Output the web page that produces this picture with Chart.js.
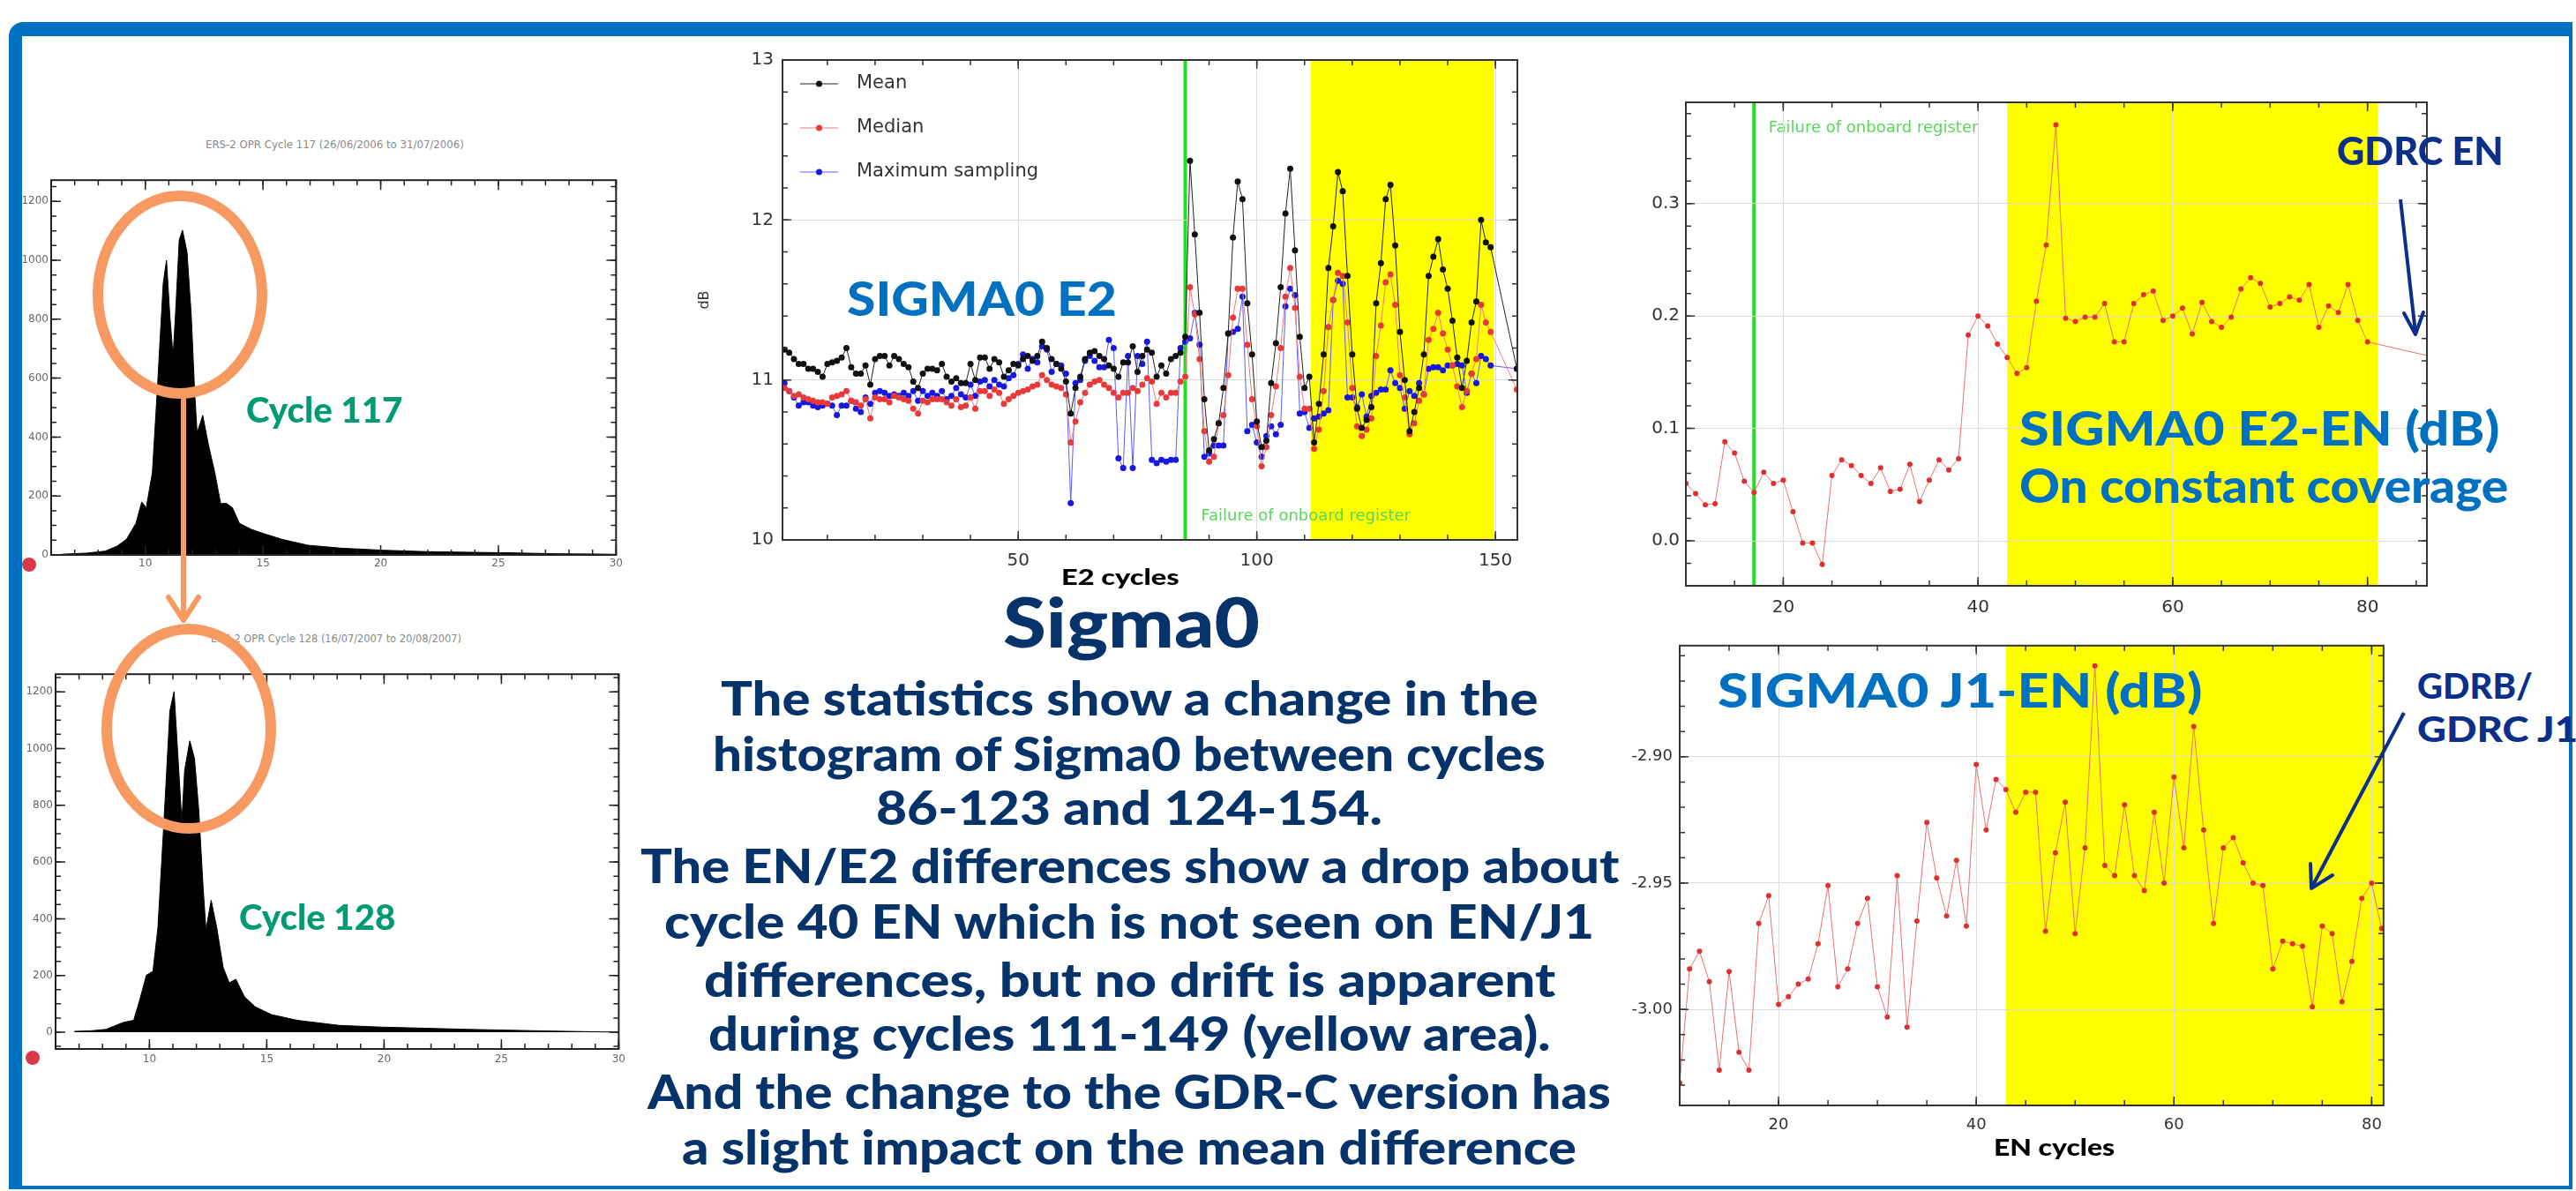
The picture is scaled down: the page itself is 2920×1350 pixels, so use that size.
<!DOCTYPE html>
<html>
<head>
<meta charset="utf-8">
<script src="https://cdn.jsdelivr.net/npm/chart.js@4.4.1/dist/chart.umd.min.js"></script>
<style>
  html, body { margin: 0; padding: 0; background: #fff; }
  #slide { position: relative; width: 2920px; height: 1350px; overflow: hidden; background: #fff; }
  .frame { position: absolute; left: 10px; top: 25px; width: 2906px; height: 1323px; box-sizing: border-box;
           border: solid #0070c0; border-width: 16px 4px 4px 15px; border-top-left-radius: 16px; }
  .box { position: absolute; }
  .t { position: absolute; white-space: nowrap; line-height: 1; font-family: "Comic Sans MS", "Lato", sans-serif;
       font-weight: 900; transform-origin: 0 0; }
  .s { position: absolute; white-space: nowrap; line-height: 1; font-family: "DejaVu Sans", sans-serif;
       font-size: 12px; color: #8a8a8a; transform-origin: 0 0; }
  svg.over { position: absolute; left: 0; top: 0; pointer-events: none; }
</style>
</head>
<body>
<div id="slide">
  <div class="frame"></div>

  <div class="box" style="left:20px;top:194px;width:689px;height:466px"><canvas id="hist117"></canvas></div>
  <div class="box" style="left:25px;top:754px;width:689px;height:466px"><canvas id="hist128"></canvas></div>
  <div class="box" style="left:785px;top:46px;width:945px;height:606px"><canvas id="e2"></canvas></div>
  <div class="box" style="left:1855px;top:97px;width:906px;height:607px"><canvas id="e2en"></canvas></div>
  <div class="box" style="left:1834px;top:713px;width:878px;height:580px"><canvas id="j1en"></canvas></div>

  <div class="s" data-x="379" data-y="164" data-w="293" data-c="1">ERS-2 OPR Cycle 117 (26/06/2006 to 31/07/2006)</div>
  <div class="s" data-x="381" data-y="724" data-w="284" data-c="1">ERS-2 OPR Cycle 128 (16/07/2007 to 20/08/2007)</div>

  <div class="t" data-x="279" data-y="465" data-w="177" style="font-size:40px;color:#009b72">Cycle 117</div>
  <div class="t" data-x="271" data-y="1040" data-w="177" style="font-size:40px;color:#009b72">Cycle 128</div>
  <div class="t" data-x="960" data-y="339" data-w="306" style="font-size:53px;color:#0070c0">SIGMA0 E2</div>
  <div class="t" data-x="1270" data-y="654" data-w="134" data-c="1" style="font-size:25px;color:#000">E2 cycles</div>
  <div class="t" data-x="1282" data-y="706" data-w="291" data-c="1" style="font-size:79px;color:#06346a">Sigma0</div>

  <div class="t" data-x="1280" data-y="792" data-w="927" data-c="1" style="font-size:53px;color:#06346a">The statistics show a change in the</div>
  <div class="t" data-x="1280" data-y="855" data-w="944" data-c="1" style="font-size:53px;color:#06346a">histogram of Sigma0 between cycles</div>
  <div class="t" data-x="1280" data-y="916" data-w="574" data-c="1" style="font-size:53px;color:#06346a">86-123 and 124-154.</div>
  <div class="t" data-x="1280" data-y="982" data-w="1109" data-c="1" style="font-size:53px;color:#06346a">The EN/E2 differences show a drop about</div>
  <div class="t" data-x="1280" data-y="1045" data-w="1054" data-c="1" style="font-size:53px;color:#06346a">cycle 40 EN which is not seen on EN/J1</div>
  <div class="t" data-x="1280" data-y="1111" data-w="965" data-c="1" style="font-size:53px;color:#06346a">differences, but no drift is apparent</div>
  <div class="t" data-x="1280" data-y="1172" data-w="954" data-c="1" style="font-size:53px;color:#06346a">during cycles 111-149 (yellow area).</div>
  <div class="t" data-x="1280" data-y="1238" data-w="1092" data-c="1" style="font-size:53px;color:#06346a">And the change to the GDR-C version has</div>
  <div class="t" data-x="1280" data-y="1301" data-w="1014" data-c="1" style="font-size:53px;color:#06346a">a slight impact on the mean difference</div>

  <div class="t" data-x="2649" data-y="172" data-w="189" style="font-size:43px;color:#0c2f8a">GDRC EN</div>
  <div class="t" data-x="2289" data-y="487" data-w="545" style="font-size:54px;color:#0070c0">SIGMA0 E2-EN (dB)</div>
  <div class="t" data-x="2289" data-y="552" data-w="554" style="font-size:54px;color:#0070c0">On constant coverage</div>
  <div class="t" data-x="1947" data-y="784" data-w="549" style="font-size:54px;color:#0070c0">SIGMA0 J1-EN (dB)</div>
  <div class="t" data-x="2740" data-y="778" data-w="131" style="font-size:40px;color:#0c2f8a">GDRB/</div>
  <div class="t" data-x="2740" data-y="827" data-w="182" style="font-size:40px;color:#0c2f8a">GDRC J1</div>
  <div class="t" data-x="2328" data-y="1300" data-w="137" data-c="1" style="font-size:27px;color:#000">EN cycles</div>

  <svg class="over" width="2920" height="1350">
    <ellipse cx="204" cy="334" rx="93" ry="112" fill="none" stroke="#f79a62" stroke-width="12"/>
    <ellipse cx="214" cy="826" rx="93" ry="113" fill="none" stroke="#f79a62" stroke-width="12"/>
    <line x1="208" y1="440" x2="208" y2="700" stroke="#f79a62" stroke-width="6"/>
    <polyline points="191,677 208,703 225,677" fill="none" stroke="#f79a62" stroke-width="6" stroke-linecap="round" stroke-linejoin="round"/>
    <line x1="2721" y1="226" x2="2738" y2="377" stroke="#0c2f8a" stroke-width="4"/>
    <polyline points="2725,355 2738,379 2747,354" fill="none" stroke="#0c2f8a" stroke-width="4" stroke-linecap="round" stroke-linejoin="round"/>
    <line x1="2725" y1="808" x2="2621" y2="1005" stroke="#0c2f8a" stroke-width="4"/>
    <polyline points="2619,979 2620,1007 2644,992" fill="none" stroke="#0c2f8a" stroke-width="4" stroke-linecap="round" stroke-linejoin="round"/>
    <circle cx="33" cy="640" r="8" fill="#d8384a"/>
    <circle cx="37" cy="1199" r="8" fill="#d8384a"/>
  </svg>
</div>

<script>
// histogram outlines, sigma0 (dB) vs pixel count
const hist117X = [6.2, 6.6, 7.5, 8.3, 8.8, 9.2, 9.6, 9.85, 10.04, 10.3, 10.5, 10.76, 10.9, 11.04, 11.18, 11.3, 11.44, 11.58, 11.77, 11.95, 12.1, 12.2, 12.44, 12.68, 12.95, 13.2, 13.45, 13.7, 14.0, 14.5, 15.0, 15.8, 16.9, 18.3, 20.1, 22.0, 23.8, 25.6, 27.4, 29.2, 30];
const hist117Y = [0, 3, 6, 13, 30, 53, 107, 180, 160, 280, 548, 922, 1000, 815, 675, 842, 1069, 1102, 1029, 815, 548, 414, 474, 374, 280, 174, 175, 160, 107, 87, 73, 53, 33, 23, 16, 11, 9, 7, 4, 3, 2];
const hist128X = [6.8, 7.5, 8.15, 8.9, 9.33, 9.6, 9.87, 10.15, 10.36, 10.6, 10.87, 11.05, 11.2, 11.38, 11.5, 11.72, 11.92, 12.1, 12.29, 12.41, 12.63, 12.87, 13.14, 13.4, 13.68, 14.05, 14.5, 15.2, 16.3, 18.1, 19.9, 21.8, 23.6, 25.4, 27.2, 29.4, 30];
const hist128Y = [3, 5, 10, 35, 42, 118, 201, 215, 368, 715, 1132, 1201, 993, 743, 923, 1027, 965, 785, 507, 361, 465, 368, 229, 174, 187, 125, 90, 62, 42, 24, 18, 14, 10, 7, 4, 1, 1];
const histTicksX = [10, 15, 20, 25, 30];
const histTicksY = [0, 200, 400, 600, 800, 1000, 1200];

// sigma0 E2 statistics per E2 cycle
const e2Cycles = [1, 2, 3, 4, 5, 6, 7, 8, 9, 10, 11, 12, 13, 14, 15, 16, 17, 18, 19, 20,
  21, 22, 23, 24, 25, 26, 27, 28, 29, 30, 31, 32, 33, 34, 35, 36, 37, 38, 39, 40,
  41, 42, 43, 44, 45, 46, 47, 48, 49, 50, 51, 52, 53, 54, 55, 56, 57, 58, 59, 60,
  61, 62, 63, 64, 65, 66, 67, 68, 69, 70, 71, 72, 73, 74, 75, 76, 77, 78, 79, 80,
  81, 82, 83, 84, 85, 86, 87, 88, 89, 90, 91, 92, 93, 94, 95, 96, 97, 98, 99, 100,
  101, 102, 103, 104, 105, 106, 107, 108, 109, 110, 111, 112, 113, 114, 115, 116, 117, 118, 119, 120,
  121, 122, 123, 124, 125, 126, 127, 128, 129, 130, 131, 132, 133, 134, 135, 136, 137, 138, 139, 140,
  141, 142, 143, 144, 145, 146, 147, 148, 149, 154.5];
const e2Mean = [11.19, 11.17, 11.13, 11.10, 11.10, 11.07, 11.07, 11.05, 11.02, 11.10, 11.11, 11.12, 11.14, 11.20, 11.08, 11.04, 11.04, 11.09, 10.97, 11.13,
  11.15, 11.15, 11.09, 11.15, 11.13, 11.10, 11.08, 10.99, 10.95, 11.04, 11.07, 11.07, 11.06, 11.10, 11.02, 10.99, 11.01, 10.98, 10.98, 11.10,
  11.00, 11.14, 11.14, 11.07, 11.13, 11.11, 11.02, 11.06, 11.10, 11.09, 11.13, 11.15, 11.12, 11.15, 11.24, 11.20, 11.13, 11.10, 11.07, 10.99,
  10.79, 10.95, 11.02, 11.13, 11.17, 11.18, 11.15, 11.13, 11.09, 11.07, 11.02, 11.11, 11.11, 11.21, 11.05, 11.15, 11.19, 11.17, 11.02, 11.09,
  11.04, 11.13, 11.15, 11.17, 11.27, 12.37, 11.91, 11.42, 10.88, 10.56, 10.63, 10.73, 10.95, 11.29, 11.89, 12.24, 12.13, 11.48, 11.16, 10.74,
  10.58, 10.62, 10.98, 11.23, 11.58, 12.04, 12.32, 11.81, 11.27, 10.95, 11.02, 10.61, 10.85, 11.16, 11.70, 11.96, 12.30, 12.18, 11.65, 11.16,
  10.82, 10.70, 10.75, 10.83, 11.48, 11.73, 12.13, 12.22, 11.84, 11.30, 11.00, 10.68, 10.80, 10.95, 11.16, 11.65, 11.77, 11.88, 11.69, 11.57,
  11.37, 11.14, 10.95, 11.12, 11.36, 11.49, 12.00, 11.86, 11.83, 11.07];
const e2Median = [10.95, 10.93, 10.90, 10.91, 10.89, 10.88, 10.87, 10.86, 10.86, 10.85, 10.89, 10.90, 10.91, 10.93, 10.87, 10.86, 10.84, 10.88, 10.76, 10.89,
  10.88, 10.88, 10.86, 10.90, 10.89, 10.88, 10.87, 10.82, 10.79, 10.87, 10.86, 10.88, 10.88, 10.88, 10.86, 10.84, 10.88, 10.83, 10.84, 10.89,
  10.82, 10.93, 10.93, 10.90, 10.94, 10.92, 10.85, 10.88, 10.90, 10.92, 10.93, 10.94, 10.96, 10.97, 11.03, 11.00, 10.97, 10.96, 10.95, 10.91,
  10.61, 10.74, 10.86, 10.92, 10.97, 10.99, 11.00, 10.97, 10.95, 10.92, 10.89, 10.92, 10.92, 10.95, 10.93, 10.97, 11.01, 10.99, 10.85, 10.92,
  10.89, 10.92, 10.92, 10.99, 11.02, 11.58, 11.41, 11.13, 10.68, 10.49, 10.52, 10.73, 10.78, 11.03, 11.39, 11.57, 11.57, 11.22, 10.88, 10.71,
  10.46, 10.58, 10.78, 10.96, 11.20, 11.52, 11.70, 11.45, 11.02, 10.82, 10.82, 10.57, 10.69, 10.93, 11.33, 11.50, 11.67, 11.65, 11.36, 10.95,
  10.71, 10.65, 10.69, 10.76, 11.15, 11.34, 11.61, 11.66, 11.47, 11.03, 10.89, 10.66, 10.73, 10.87, 10.91, 11.25, 11.32, 11.42, 11.29, 11.19,
  11.09, 10.96, 10.83, 10.93, 11.04, 11.13, 11.47, 11.36, 11.30, 10.94];
const e2MaxSampling = [10.98, 10.93, 10.89, 10.84, 10.86, 10.86, 10.84, 10.83, 10.84, 10.85, 10.84, 10.78, 10.84, 10.84, 10.87, 10.82, 10.80, 10.89, 10.85, 10.92,
  10.93, 10.92, 10.90, 10.91, 10.90, 10.92, 10.90, 10.93, 10.87, 10.93, 10.90, 10.92, 10.90, 10.93, 10.88, 10.90, 10.95, 10.91, 10.89, 10.97,
  10.90, 10.99, 11.00, 10.96, 11.00, 10.97, 10.96, 11.01, 11.03, 11.10, 11.16, 11.07, 11.13, 11.11, 11.21, 11.19, 11.05, 11.10, 11.09, 11.04,
  10.23, 10.98, 11.00, 11.12, 11.15, 11.12, 11.08, 11.08, 11.25, 11.20, 10.51, 10.45, 11.15, 10.45, 11.15, 11.10, 11.24, 10.50, 10.48, 10.50,
  10.49, 10.50, 10.50, 11.20, 11.24, 11.26, 11.42, 11.22, 10.52, 10.54, 10.59, 10.59, 10.59, 11.29, 11.30, 11.32, 11.52, 10.68, 10.72, 10.61,
  10.52, 10.65, 10.71, 10.66, 10.72, 11.46, 11.57, 11.53, 10.79, 10.80, 10.70, 10.76, 10.77, 10.79, 10.81, 11.50, 11.62, 11.60, 10.89, 10.89,
  10.83, 10.91, 10.77, 10.90, 10.92, 10.94, 10.94, 11.06, 10.98, 10.95, 10.82, 10.93, 10.90, 10.98, 10.91, 11.07, 11.08, 11.08, 11.06, 11.09,
  11.09, 11.10, 11.09, 10.92, 11.04, 10.98, 11.15, 11.13, 11.09, 11.07];
const e2TicksX = [50, 100, 150];
const e2TicksY = [10, 11, 12, 13];

// sigma0 differences per EN cycle (dB)
const enE2Cycles = [10, 11, 12, 13, 14, 15, 16, 17, 18, 19, 20, 21, 22, 23, 24, 25, 26, 27, 28, 29,
  30, 31, 32, 33, 34, 35, 36, 37, 38, 39, 40, 41, 42, 43, 44, 45, 46, 47, 48, 49,
  50, 51, 52, 53, 54, 55, 56, 57, 58, 59, 60, 61, 62, 63, 64, 65, 66, 67, 68, 69,
  70, 71, 72, 73, 74, 75, 76, 77, 78, 79, 80, 86];
const e2MinusEn = [0.051, 0.042, 0.032, 0.033, 0.088, 0.078, 0.053, 0.043, 0.061, 0.051, 0.054, 0.026, -0.002, -0.002, -0.021, 0.058, 0.072, 0.067, 0.058, 0.051,
  0.065, 0.044, 0.046, 0.068, 0.035, 0.054, 0.072, 0.063, 0.073, 0.183, 0.200, 0.191, 0.175, 0.163, 0.149, 0.154, 0.213, 0.263, 0.370, 0.198,
  0.195, 0.199, 0.199, 0.211, 0.177, 0.177, 0.211, 0.219, 0.222, 0.196, 0.200, 0.207, 0.184, 0.212, 0.195, 0.190, 0.199, 0.224, 0.234, 0.229,
  0.208, 0.211, 0.217, 0.214, 0.228, 0.190, 0.209, 0.203, 0.228, 0.196, 0.177, 0.165];
const enJ1Cycles = [10, 11, 12, 13, 14, 15, 16, 17, 18, 19, 20, 21, 22, 23, 24, 25, 26, 27, 28, 29,
  30, 31, 32, 33, 34, 35, 36, 37, 38, 39, 40, 41, 42, 43, 44, 45, 46, 47, 48, 49,
  50, 51, 52, 53, 54, 55, 56, 57, 58, 59, 60, 61, 62, 63, 64, 65, 66, 67, 68, 69,
  70, 71, 72, 73, 74, 75, 76, 77, 78, 79, 80, 81];
const j1MinusEn = [-3.029, -2.984, -2.977, -2.989, -3.024, -2.985, -3.017, -3.024, -2.966, -2.955, -2.998, -2.995, -2.990, -2.988, -2.974, -2.951, -2.991, -2.984, -2.966, -2.956,
  -2.991, -3.003, -2.947, -3.007, -2.965, -2.926, -2.948, -2.963, -2.941, -2.967, -2.903, -2.929, -2.909, -2.913, -2.922, -2.914, -2.914, -2.969, -2.938, -2.918,
  -2.970, -2.936, -2.864, -2.943, -2.947, -2.919, -2.947, -2.953, -2.922, -2.950, -2.908, -2.936, -2.888, -2.929, -2.966, -2.936, -2.932, -2.942, -2.950, -2.951,
  -2.984, -2.973, -2.974, -2.975, -2.999, -2.967, -2.970, -2.997, -2.981, -2.956, -2.950, -2.968];
const enTicksX = [20, 40, 60, 80];
const e2enTicksY = [0.0, 0.1, 0.2, 0.3];
const j1enTicksY = [-3.00, -2.95, -2.90];

// boxed frame with inward ticks, like the original plotting tool
const framePlugin = {
  id: 'frame',
  afterDatasetsDraw(chart, args, o) {
    if (!o.minor) return;
    const { ctx, chartArea: a, scales: { x, y } } = chart;
    ctx.save();
    ctx.strokeStyle = o.color;
    ctx.lineWidth = o.width;
    ctx.strokeRect(a.left, a.top, a.right - a.left, a.bottom - a.top);
    ctx.lineWidth = 1.5;
    const markX = (v, len) => {
      const p = x.getPixelForValue(v);
      ctx.beginPath();
      ctx.moveTo(p, a.bottom); ctx.lineTo(p, a.bottom - len);
      ctx.moveTo(p, a.top); ctx.lineTo(p, a.top + len);
      ctx.stroke();
    };
    const markY = (v, len) => {
      const p = y.getPixelForValue(v);
      ctx.beginPath();
      ctx.moveTo(a.left, p); ctx.lineTo(a.left + len, p);
      ctx.moveTo(a.right, p); ctx.lineTo(a.right - len, p);
      ctx.stroke();
    };
    const steps = (scale, step, fn, len) => {
      const first = Math.ceil(scale.min / step - 1e-9);
      const last = Math.floor(scale.max / step + 1e-9);
      for (let i = first; i <= last; i++) fn(i * step, len);
    };
    steps(x, o.minor[0], markX, o.len[1]);
    steps(y, o.minor[1], markY, o.len[1]);
    x.ticks.forEach(t => markX(t.value, o.len[0]));
    y.ticks.forEach(t => markY(t.value, o.len[0]));
    ctx.restore();
  }
};

// yellow period, green failure line and its note
const bandPlugin = {
  id: 'bands',
  beforeDraw(chart, args, o) {
    if (!o.yellow) return;
    const { ctx, chartArea: a, scales: { x, y } } = chart;
    ctx.save();
    ctx.beginPath();
    ctx.rect(a.left, a.top, a.right - a.left, a.bottom - a.top);
    ctx.clip();
    const x1 = x.getPixelForValue(o.yellow[0]);
    const x2 = x.getPixelForValue(o.yellow[1]);
    ctx.fillStyle = '#ffff00';
    ctx.fillRect(x1, a.top, x2 - x1, a.bottom - a.top);
    if (o.failure != null) {
      const g = x.getPixelForValue(o.failure);
      ctx.strokeStyle = '#22dd22';
      ctx.lineWidth = 4;
      ctx.beginPath();
      ctx.moveTo(g, a.top); ctx.lineTo(g, a.bottom);
      ctx.stroke();
    }
    if (o.note) {
      ctx.fillStyle = '#5ad65a';
      ctx.font = '18px "DejaVu Sans"';
      ctx.textBaseline = 'middle';
      ctx.fillText(o.note.text, x.getPixelForValue(o.note.x), y.getPixelForValue(o.note.y));
    }
    ctx.restore();
  }
};

// legend drawn as line + dot, inside the plot
const keyPlugin = {
  id: 'seriesKey',
  afterDatasetsDraw(chart, args, o) {
    if (!o.show) return;
    const { ctx, chartArea: a } = chart;
    ctx.save();
    chart.data.datasets.forEach((ds, i) => {
      const yy = a.top + 27 + i * 50;
      ctx.strokeStyle = ds.borderColor;
      ctx.lineWidth = 1.2;
      ctx.beginPath();
      ctx.moveTo(a.left + 20, yy); ctx.lineTo(a.left + 63, yy);
      ctx.stroke();
      ctx.fillStyle = ds.pointBackgroundColor;
      ctx.beginPath();
      ctx.arc(a.left + 41.5, yy, 3.5, 0, Math.PI * 2);
      ctx.fill();
      ctx.fillStyle = '#333';
      ctx.font = '21px "DejaVu Sans"';
      ctx.textBaseline = 'middle';
      ctx.fillText(ds.label, a.left + 84, yy);
    });
    ctx.restore();
  }
};

Chart.register(framePlugin, bandPlugin, keyPlugin);

function plot(id, c) {
  return new Chart(document.getElementById(id), {
    type: 'line',
    data: { labels: c.labels, datasets: c.datasets },
    options: {
      responsive: true,
      maintainAspectRatio: false,
      animation: false,
      layout: { padding: { top: 10, right: 10, left: 0, bottom: 0 } },
      plugins: {
        legend: { display: false },
        tooltip: { enabled: false },
        frame: c.frame,
        bands: c.bands || {},
        seriesKey: c.key || {}
      },
      scales: {
        x: {
          type: 'linear', min: c.xr[0], max: c.xr[1],
          grid: { display: c.grid, color: '#dcdcdc', drawTicks: false },
          border: { display: false },
          ticks: { font: { family: 'DejaVu Sans', size: c.fs }, color: c.tc, padding: c.xp, callback: c.xf },
          afterBuildTicks: s => { s.ticks = c.xt.map(v => ({ value: v })); },
          afterFit: s => { s.height = c.xh; }
        },
        y: {
          min: c.yr[0], max: c.yr[1],
          grid: { display: c.grid, color: '#dcdcdc', drawTicks: false },
          border: { display: false },
          title: c.yTitle ? { display: true, text: c.yTitle, font: { family: 'DejaVu Sans', size: 16 }, color: '#333' } : { display: false },
          ticks: { font: { family: 'DejaVu Sans', size: c.fs }, color: c.tc, padding: c.yp, callback: c.yf },
          afterBuildTicks: s => { s.ticks = c.yt.map(v => ({ value: v })); },
          afterFit: s => { s.width = c.yw; }
        }
      }
    }
  });
}

function histSet(y) {
  return [{ data: y, borderColor: '#000', backgroundColor: '#000', borderWidth: 1, fill: 'origin', pointRadius: 0, tension: 0 }];
}
const histFrame = { color: '#222', width: 2, minor: [1, 50], len: [11, 6] };

plot('hist117', {
  labels: hist117X, datasets: histSet(hist117Y),
  xr: [6, 30], yr: [0, 1272], xt: histTicksX, yt: histTicksY,
  xh: 31, yw: 38, xp: 3, yp: 3, fs: 12, tc: '#666', grid: false, frame: histFrame
});
plot('hist128', {
  labels: hist128X, datasets: histSet(hist128Y),
  xr: [6, 30], yr: [-59, 1262], xt: histTicksX, yt: histTicksY,
  xh: 31, yw: 38, xp: 5, yp: 3, fs: 12, tc: '#666', grid: false, frame: histFrame
});

function dots(label, values, line, dot, r) {
  return { label: label, data: values, borderColor: line, borderWidth: 1, pointBackgroundColor: dot,
           pointBorderWidth: 0, pointRadius: r, tension: 0, fill: false };
}

plot('e2', {
  labels: e2Cycles,
  datasets: [
    dots('Mean', e2Mean, '#222', '#111', 3.5),
    dots('Median', e2Median, '#f07a7a', '#e83a3a', 3.5),
    dots('Maximum sampling', e2MaxSampling, '#5a5aff', '#1818e0', 3.5)
  ],
  xr: [0.6, 154.6], yr: [10, 13], xt: e2TicksX, yt: e2TicksY,
  xh: 40, yw: 102, xp: 12, yp: 10, fs: 20, tc: '#333', grid: true, yTitle: 'dB',
  frame: { color: '#333', width: 2, minor: [10, 0.2], len: [10, 6] },
  bands: { yellow: [111.3, 149.6], failure: 85, note: { text: 'Failure of onboard register', x: 88.3, y: 10.146 } },
  key: { show: true }
});

plot('e2en', {
  labels: enE2Cycles,
  datasets: [Object.assign(dots('E2-EN', e2MinusEn, '#ee7070', '#dd3030', 3),
    { pointRadius: ctx => (ctx.dataIndex === enE2Cycles.length - 1 ? 0 : 3) })],
  xr: [10, 86.1], yr: [-0.04, 0.39], xt: enTicksX, yt: e2enTicksY,
  xh: 40, yw: 56, xp: 13, yp: 7, fs: 20, tc: '#333', grid: true, yf: v => v.toFixed(1),
  frame: { color: '#333', width: 2, minor: [5, 0.02], len: [10, 6] },
  bands: { yellow: [43, 81.05], failure: 17, note: { text: 'Failure of onboard register', x: 18.5, y: 0.367 } }
});

plot('j1en', {
  labels: enJ1Cycles,
  datasets: [dots('J1-EN', j1MinusEn, '#ee7070', '#dd3030', 3)],
  xr: [10, 81.2], yr: [-3.038, -2.856], xt: enTicksX, yt: j1enTicksY,
  xh: 40, yw: 70, xp: 12, yp: 8, fs: 18, tc: '#333', grid: true, yf: v => v.toFixed(2),
  frame: { color: '#333', width: 2, minor: [5, 0.01], len: [10, 6] },
  bands: { yellow: [43, 90] }
});

// squeeze each text line to the width it takes on the slide
document.querySelectorAll('.t, .s').forEach(el => {
  const x = +el.dataset.x, y = +el.dataset.y, w = +el.dataset.w;
  const fs = parseFloat(getComputedStyle(el).fontSize);
  const k = w / el.offsetWidth;
  el.style.left = (el.dataset.c ? x - w / 2 : x) + 'px';
  el.style.top = (y - (el.classList.contains('s') ? 0.48 : 0.53) * fs) + 'px';
  el.style.transform = 'scaleX(' + k + ')';
});
</script>
</body>
</html>
